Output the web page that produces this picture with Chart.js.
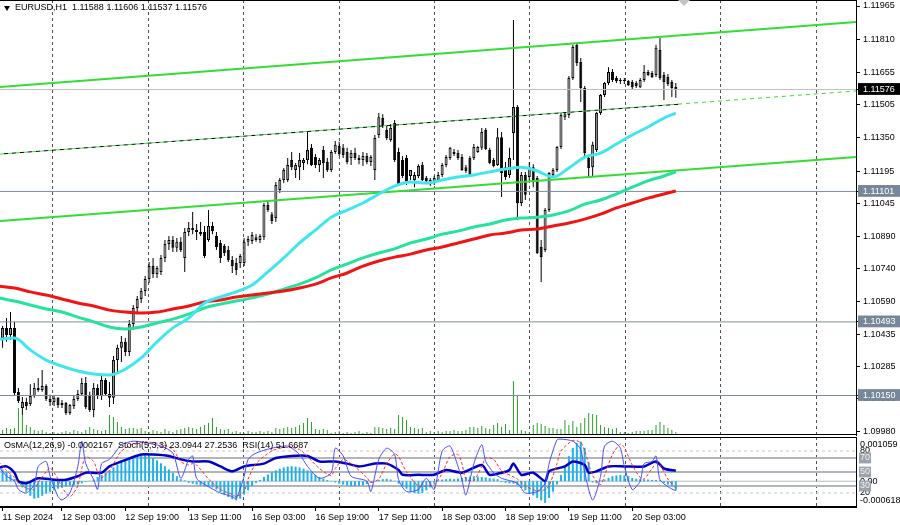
<!DOCTYPE html>
<html>
<head>
<meta charset="utf-8">
<script src="https://cdn.jsdelivr.net/npm/chart.js@4.4.1/dist/chart.umd.min.js"></script>
<style>
  html, body { margin: 0; padding: 0; background: #fff; }
  #wrap { position: relative; width: 900px; height: 525px; overflow: hidden; font-family: 'Liberation Sans', Arial, sans-serif; }
  canvas { position: absolute; left: 0; }
  #priceChart { top: 0; }
  #oscChart { top: 437px; }
  .txt { position: absolute; font-size: 9px; line-height: 11px; color: #000; white-space: pre; }
  #hdr { left: 15px; top: 2px; }
  #hdrArrow { position: absolute; left: 4px; top: 6px; width: 0; height: 0; border-left: 3.5px solid transparent; border-right: 3.5px solid transparent; border-top: 5px solid #000; }
  #oscHdr { left: 4px; top: 440px; }
  #shift { position: absolute; left: 678px; top: 0; width: 0; height: 0; border-left: 6px solid transparent; border-right: 6px solid transparent; border-top: 6px solid #c4c4c4; }
</style>
</head>
<body>
<div id="wrap">
  <canvas id="priceChart" width="900" height="436"></canvas>
  <canvas id="oscChart" width="900" height="88"></canvas>
  <div id="hdrArrow"></div>
  <div id="hdr" class="txt"></div>
  <div id="oscHdr" class="txt"></div>
  <div id="shift"></div>
</div>
<script>
// EURUSD H1, one entry per bar (bar 0 = 11 Sep 11:00, bar 171 = 20 Sep 14:00)
const opens = [
  1.10455,1.10418,1.10465,1.10432,1.10465,1.10167,1.10092,1.10120,1.10110,1.10148,
  1.10185,1.10176,1.10194,1.10134,1.10120,1.10139,1.10106,1.10115,1.10068,1.10101,
  1.10134,1.10157,1.10208,1.10153,1.10082,1.10185,1.10148,1.10222,1.10157,1.10139,
  1.10315,1.10372,1.10400,1.10353,1.10483,1.10558,1.10600,1.10637,1.10693,1.10753,
  1.10716,1.10726,1.10791,1.10856,1.10875,1.10838,1.10866,1.10791,1.10912,1.10931,
  1.10921,1.10912,1.10912,1.10875,1.10940,1.10893,1.10861,1.10847,1.10828,1.10781,
  1.10767,1.10767,1.10767,1.10866,1.10870,1.10888,1.10875,1.10888,1.11038,1.10995,
  1.10977,1.11108,1.11154,1.11154,1.11247,1.11201,1.11214,1.11233,1.11247,1.11304,
  1.11261,1.11224,1.11294,1.11238,1.11201,1.11285,1.11313,1.11304,1.11285,1.11257,
  1.11280,1.11257,1.11247,1.11266,1.11238,1.11201,1.11364,1.11443,1.11387,1.11341,
  1.11420,1.11285,1.11247,1.11257,1.11173,1.11154,1.11173,1.11224,1.11164,1.11154,
  1.11140,1.11154,1.11178,1.11224,1.11257,1.11285,1.11280,1.11261,1.11214,1.11257,
  1.11257,1.11285,1.11304,1.11387,1.11294,1.11247,1.11224,1.11354,1.11214,1.11178,
  1.11373,1.11494,1.11047,1.11178,1.11168,1.11214,1.11164,1.10842,1.10828,1.11014,
  1.11178,1.11201,1.11308,1.11447,1.11457,1.11630,1.11784,1.11704,1.11583,1.11257,
  1.11214,1.11294,1.11466,1.11550,1.11606,1.11658,1.11630,1.11615,1.11620,1.11615,
  1.11611,1.11606,1.11587,1.11620,1.11658,1.11653,1.11644,1.11760,1.11644,1.11634,
  1.11611,1.11588
];
const highs = [
  1.10493,1.10474,1.10511,1.10539,1.10493,1.10185,1.10143,1.10139,1.10203,1.10208,
  1.10232,1.10269,1.10203,1.10153,1.10148,1.10143,1.10129,1.10120,1.10110,1.10148,
  1.10176,1.10232,1.10236,1.10167,1.10208,1.10203,1.10241,1.10232,1.10213,1.10334,
  1.10386,1.10427,1.10418,1.10502,1.10572,1.10614,1.10651,1.10707,1.10772,1.10791,
  1.10753,1.10805,1.10875,1.10893,1.10893,1.10884,1.10888,1.10931,1.10959,1.11005,
  1.10949,1.10959,1.10940,1.11014,1.10959,1.10912,1.10875,1.10856,1.10847,1.10800,
  1.10791,1.10809,1.10884,1.10893,1.10912,1.10902,1.10902,1.11047,1.11052,1.11005,
  1.11145,1.11164,1.11210,1.11257,1.11285,1.11233,1.11280,1.11257,1.11378,1.11322,
  1.11275,1.11257,1.11313,1.11257,1.11294,1.11336,1.11332,1.11322,1.11304,1.11294,
  1.11304,1.11271,1.11285,1.11280,1.11271,1.11364,1.11466,1.11461,1.11406,1.11415,
  1.11434,1.11304,1.11266,1.11271,1.11201,1.11192,1.11228,1.11238,1.11173,1.11164,
  1.11173,1.11192,1.11233,1.11271,1.11308,1.11299,1.11294,1.11275,1.11224,1.11266,
  1.11322,1.11313,1.11397,1.11397,1.11304,1.11257,1.11397,1.11378,1.11238,1.11304,
  1.11900,1.11504,1.11192,1.11192,1.11238,1.11228,1.11173,1.10875,1.11024,1.11192,
  1.11210,1.11313,1.11466,1.11471,1.11639,1.11784,1.11793,1.11723,1.11592,1.11266,
  1.11332,1.11471,1.11555,1.11611,1.11680,1.11671,1.11639,1.11630,1.11630,1.11620,
  1.11620,1.11615,1.11630,1.11690,1.11667,1.11662,1.11784,1.11816,1.11658,1.11648,
  1.11620,1.11606
];
const lows = [
  1.10386,1.10372,1.10400,1.10409,1.10148,1.10115,1.10059,1.10082,1.10101,1.10139,
  1.10167,1.10167,1.10124,1.10101,1.10101,1.10092,1.10092,1.10059,1.10059,1.10087,
  1.10124,1.10148,1.10087,1.10073,1.10049,1.10134,1.10129,1.10148,1.10096,1.10110,
  1.10260,1.10306,1.10334,1.10334,1.10455,1.10529,1.10581,1.10614,1.10674,1.10698,
  1.10698,1.10712,1.10772,1.10828,1.10819,1.10819,1.10819,1.10726,1.10893,1.10902,
  1.10875,1.10893,1.10791,1.10866,1.10902,1.10828,1.10767,1.10800,1.10772,1.10721,
  1.10712,1.10744,1.10753,1.10847,1.10856,1.10866,1.10861,1.10875,1.11005,1.10949,
  1.10959,1.11094,1.11140,1.11145,1.11201,1.11164,1.11154,1.11201,1.11228,1.11219,
  1.11210,1.11192,1.11164,1.11192,1.11192,1.11275,1.11266,1.11257,1.11228,1.11224,
  1.11247,1.11228,1.11219,1.11228,1.11219,1.11154,1.11350,1.11397,1.11341,1.11332,
  1.11238,1.11126,1.11164,1.11131,1.11154,1.11121,1.11164,1.11149,1.11135,1.11126,
  1.11131,1.11145,1.11168,1.11214,1.11247,1.11266,1.11247,1.11196,1.11187,1.11173,
  1.11247,1.11280,1.11294,1.11294,1.11228,1.11214,1.11219,1.11075,1.11154,1.11164,
  1.11247,1.10968,1.11033,1.11061,1.11154,1.11121,1.10809,1.10679,1.10819,1.11005,
  1.11168,1.11192,1.11299,1.11434,1.11443,1.11620,1.11685,1.11518,1.11266,1.11168,
  1.11168,1.11285,1.11457,1.11541,1.11597,1.11611,1.11606,1.11601,1.11601,1.11592,
  1.11578,1.11583,1.11583,1.11611,1.11639,1.11630,1.11634,1.11620,1.11527,1.11592,
  1.11541,1.11537
];
const closes = [
  1.10418,1.10465,1.10432,1.10465,1.10162,1.10124,1.10120,1.10101,1.10148,1.10185,
  1.10176,1.10194,1.10134,1.10120,1.10139,1.10106,1.10115,1.10068,1.10106,1.10134,
  1.10157,1.10208,1.10096,1.10082,1.10185,1.10148,1.10222,1.10157,1.10139,1.10315,
  1.10372,1.10400,1.10353,1.10483,1.10558,1.10600,1.10637,1.10693,1.10753,1.10716,
  1.10744,1.10791,1.10856,1.10875,1.10838,1.10866,1.10828,1.10912,1.10931,1.10921,
  1.10912,1.10902,1.10800,1.10940,1.10916,1.10842,1.10791,1.10814,1.10781,1.10753,
  1.10735,1.10800,1.10866,1.10879,1.10898,1.10875,1.10893,1.11038,1.11014,1.10963,
  1.11131,1.11154,1.11201,1.11224,1.11214,1.11224,1.11247,1.11247,1.11294,1.11224,
  1.11224,1.11247,1.11233,1.11201,1.11285,1.11318,1.11275,1.11271,1.11238,1.11280,
  1.11257,1.11247,1.11266,1.11238,1.11261,1.11350,1.11447,1.11406,1.11350,1.11397,
  1.11247,1.11135,1.11173,1.11145,1.11201,1.11178,1.11219,1.11154,1.11149,1.11135,
  1.11164,1.11178,1.11224,1.11261,1.11304,1.11275,1.11257,1.11201,1.11196,1.11178,
  1.11308,1.11308,1.11378,1.11299,1.11233,1.11219,1.11354,1.11187,1.11168,1.11257,
  1.11494,1.11047,1.11178,1.11085,1.11214,1.11145,1.10814,1.10795,1.11014,1.11187,
  1.11201,1.11308,1.11457,1.11461,1.11630,1.11774,1.11699,1.11583,1.11280,1.11210,
  1.11318,1.11466,1.11550,1.11606,1.11658,1.11620,1.11615,1.11620,1.11615,1.11597,
  1.11587,1.11592,1.11620,1.11658,1.11644,1.11634,1.11770,1.11630,1.11611,1.11601,
  1.11583,1.11576
];
const volumes = [
  600,500,700,600,700,2700,2000,1000,800,500,
  400,500,300,200,300,200,300,400,300,500,
  400,300,500,800,600,500,400,500,2000,1800,
  1300,800,600,700,700,600,700,400,300,500,
  400,300,600,400,300,500,600,700,800,700,
  600,800,1000,1200,1700,800,600,500,600,300,
  400,300,200,400,300,300,400,300,400,300,
  700,600,700,800,700,800,1000,1200,1700,1300,
  600,500,600,500,200,300,400,200,300,200,
  300,400,200,300,200,800,800,700,600,700,
  600,2000,1800,1500,800,700,600,700,300,400,
  300,400,300,400,400,500,400,400,500,800,
  800,700,900,700,600,1000,1200,800,1100,500,
  5400,3900,500,400,300,1000,1200,1100,900,700,
  700,600,600,1500,1000,1400,800,1200,1700,2200,
  2100,2000,1000,800,700,600,700,300,300,200,
  300,400,400,400,500,500,1000,1300,1000,700,
  500,300
];

// moving averages, read every 4 bars
const maBars = [0,4,8,12,16,20,24,28,32,36,40,44,48,52,56,60,64,68,72,76,80,84,88,92,96,100,104,108,112,116,120,124,128,132,136,140,144,148,152,156,160,164,168,171];
const maFast = [1.10413,1.10418,1.10362,1.10315,1.10287,1.10264,1.10250,1.10246,1.10273,1.10325,1.10400,1.10465,1.10511,1.10581,1.10609,1.10633,1.10665,1.10726,1.10791,1.10861,1.10921,1.10981,1.11014,1.11047,1.11089,1.11126,1.11145,1.11140,1.11154,1.11168,1.11178,1.11192,1.11205,1.11214,1.11196,1.11168,1.11210,1.11261,1.11280,1.11322,1.11364,1.11401,1.11443,1.11466];
const maMid = [1.10605,1.10590,1.10572,1.10553,1.10539,1.10515,1.10493,1.10469,1.10460,1.10469,1.10488,1.10506,1.10529,1.10558,1.10576,1.10590,1.10605,1.10623,1.10646,1.10669,1.10698,1.10735,1.10763,1.10791,1.10814,1.10833,1.10861,1.10879,1.10902,1.10916,1.10935,1.10949,1.10968,1.10977,1.10981,1.10991,1.11010,1.11042,1.11061,1.11089,1.11121,1.11150,1.11173,1.11192];
const maSlow = [1.10660,1.10651,1.10633,1.10618,1.10600,1.10581,1.10567,1.10548,1.10539,1.10535,1.10539,1.10553,1.10567,1.10586,1.10595,1.10609,1.10618,1.10628,1.10637,1.10651,1.10669,1.10698,1.10721,1.10753,1.10777,1.10795,1.10809,1.10828,1.10842,1.10861,1.10879,1.10898,1.10907,1.10921,1.10926,1.10940,1.10954,1.10972,1.10995,1.11024,1.11047,1.11070,1.11089,1.11103];

// drawn objects: [bar, price]
const channelTop = [[0.35, 1.11588], [216.5, 1.11890]];
const channelBottom = [[0.35, 1.10963], [216.5, 1.11261]];
const channelMid = [[0.35, 1.11275], [171.6, 1.11507]];
const channelMidRay = [[0.35, 1.11275], [216.5, 1.11569]];
const markedPrices = [1.11576, 1.11101, 1.10493, 1.10150];

const priceTicks = [1.11965,1.11810,1.11655,1.11505,1.11350,1.11195,1.11045,1.10890,1.10740,1.10590,1.10435,1.10285,1.10135,1.09980];
const timeTickBars = [1, 16, 32, 48, 64, 80, 96, 112, 128, 144, 160];
const timeLabels = ['11 Sep 2024','12 Sep 03:00','12 Sep 19:00','13 Sep 11:00','16 Sep 03:00','16 Sep 19:00','17 Sep 11:00','18 Sep 03:00','18 Sep 19:00','19 Sep 11:00','20 Sep 03:00'];
const gridBars = [13.5, 37.7, 61.7, 86, 110, 134, 158.2, 182.2, 206.4];

// oscillators
const osma = [
  0.00025,0.00028,0.00022,0.00015,0.00005,-0.00005,-0.00015,-0.00025,-0.00035,-0.00042,
  -0.00040,-0.00035,-0.00030,-0.00026,-0.00022,-0.00018,-0.00015,-0.00013,-0.00012,-0.00010,
  -0.00008,-0.00005,-0.00002,0.00001,0.00004,0.00010,0.00015,0.00020,0.00026,0.00033,
  0.00040,0.00046,0.00051,0.00055,0.00059,0.00062,0.00064,0.00063,0.00060,0.00055,
  0.00050,0.00043,0.00036,0.00028,0.00020,0.00012,0.00005,0.00002,-0.00004,-0.00006,
  -0.00008,-0.00010,-0.00012,-0.00013,-0.00015,-0.00020,-0.00026,-0.00032,-0.00038,-0.00043,
  -0.00046,-0.00042,-0.00032,-0.00022,-0.00012,-0.00004,0.00003,0.00010,0.00016,0.00021,
  0.00026,0.00030,0.00033,0.00035,0.00036,0.00035,0.00033,0.00030,0.00026,0.00021,
  0.00015,0.00010,0.00006,0.00003,0.00001,-0.00003,-0.00006,-0.00008,-0.00010,-0.00012,
  -0.00012,-0.00011,-0.00010,-0.00007,-0.00004,-0.00001,0.00003,0.00005,0.00006,0.00004,
  0.00001,-0.00006,-0.00012,-0.00018,-0.00024,-0.00028,-0.00030,-0.00028,-0.00022,-0.00015,
  -0.00006,0.00002,0.00004,0.00005,0.00006,0.00005,0.00006,0.00008,0.00010,0.00011,
  0.00012,0.00011,0.00010,0.00009,0.00007,0.00006,0.00005,-0.00002,-0.00004,-0.00005,
  -0.00006,-0.00010,-0.00016,-0.00022,-0.00028,-0.00034,-0.00040,-0.00046,-0.00052,-0.00040,
  -0.00025,-0.00008,0.00015,0.00038,0.00060,0.00080,0.00092,0.00095,0.00080,0.00045,
  -0.00003,-0.00005,0.00002,0.00004,0.00008,0.00012,0.00014,0.00015,0.00014,0.00012,
  0.00008,0.00006,0.00005,0.00004,0.00004,0.00003,0.00003,0.00002,-0.00004,-0.00008,
  -0.00012,-0.0002167
];
const stochBars = [0,2,4,5,7,9,10,12,13,15,16,18,20,21,22,24,25,26,28,30,31,34,37,41,44,46,48,49,50,53,56,59,60,62,63,65,69,73,76,78,81,84,85,87,89,93,94,96,98,100,101,103,106,108,110,112,114,116,117,118,120,122,123,125,127,131,133,136,138,139,141,142,145,147,148,150,152,153,155,157,158,160,162,163,165,166,167,169,171];
const stochMain = [58,44,37,25,20,32,58,65,44,15,10,20,58,94,62,39,25,62,68,82,89,94,92,87,77,41,68,73,41,29,20,15,12,44,68,77,84,87,75,58,41,49,84,73,44,37,22,68,84,75,39,22,25,41,25,80,87,58,39,17,62,89,65,49,41,34,20,22,34,62,96,97,94,82,49,10,44,87,94,84,58,25,37,62,65,73,39,29,23.0944];
const stochSignal = [65,52,42,35,27,25,35,50,56,40,28,15,30,55,72,65,50,42,52,72,80,90,93,90,82,65,60,62,60,40,25,18,15,22,40,62,80,86,82,72,55,45,55,68,62,42,35,40,62,76,72,50,30,30,32,48,72,75,62,40,38,58,70,68,52,40,30,23,25,30,62,80,95,92,80,45,32,45,75,90,85,60,42,40,55,62,60,40,27.2536];
const rsiBars = [0,2,4,5,7,10,14,17,20,22,26,28,31,36,39,43,46,49,53,56,59,62,67,70,74,78,81,85,88,91,95,98,101,102,106,110,113,117,122,124,127,129,130,132,135,138,139,143,145,148,149,151,154,158,163,166,168,171];
const rsi = [56,58,49,37,34,41,39,39,44,49,49,58,65,75,75,73,68,65,65,58,51,58,62,70,73,73,65,65,62,58,62,62,53,46,46,46,53,49,60,46,49,53,62,46,49,37,51,58,65,60,49,51,58,58,58,65,55,51.6687];
const levelsSolid = [70, 50, 30];
const levelsDashed = [80, 20];
const oscTickValues = [80, 20, 89, 9, 37, 70, 50, 30];
const oscTickLabels = ['80', '20', '0.001059', '-0.000618', '0.00', '70', '50', '30'];

const N = opens.length;
const xMin = 0.35, xMax = 216.5;
const priceMin = 1.09966, priceMax = 1.11993;
const osmaMin = -0.000618, osmaMax = 0.001059;

document.getElementById('hdr').textContent =
  `EURUSD,H1  ${opens[N - 1].toFixed(5)} ${highs[N - 1].toFixed(5)} ${lows[N - 1].toFixed(5)} ${closes[N - 1].toFixed(5)}`;
document.getElementById('oscHdr').textContent =
  `OsMA(12,26,9) ${osma[N - 1].toFixed(7)}  Stoch(5,3,3) ${stochMain.at(-1).toFixed(4)} ${stochSignal.at(-1).toFixed(4)}  RSI(14) ${rsi.at(-1).toFixed(4)}`;

Chart.defaults.font.family = "'Liberation Sans', Arial, sans-serif";
Chart.defaults.font.size = 9;
Chart.defaults.color = '#000';

const pts = (xs, ys) => xs.map((x, k) => ({ x, y: ys[k] }));
const pairs = arr => arr.map(([x, y]) => ({ x, y }));
const flat = v => [{ x: xMin, y: v }, { x: xMax, y: v }];

const line = (data, color, width, extra) => Object.assign({
  type: 'line', data, borderColor: color, borderWidth: width,
  pointRadius: 0, fill: false, tension: 0
}, extra);

const dayGrid = {
  id: 'dayGrid',
  beforeDatasetsDraw(chart) {
    const { ctx, chartArea: a } = chart;
    const x = chart.scales.x;
    ctx.save();
    ctx.strokeStyle = '#505050';
    ctx.lineWidth = 1;
    ctx.setLineDash([3, 3]);
    gridBars.forEach(b => {
      const px = Math.round(x.getPixelForValue(b)) + 0.5;
      ctx.beginPath();
      ctx.moveTo(px, a.top);
      ctx.lineTo(px, a.bottom);
      ctx.stroke();
    });
    ctx.restore();
  }
};

const frame = {
  id: 'frame',
  afterDraw(chart) {
    const { ctx, chartArea: a } = chart;
    ctx.save();
    ctx.strokeStyle = '#000';
    ctx.lineWidth = 1;
    ctx.beginPath();
    ctx.moveTo(0, a.top + 0.5); ctx.lineTo(a.right, a.top + 0.5);
    ctx.moveTo(0, a.bottom - 0.5); ctx.lineTo(a.right, a.bottom - 0.5);
    ctx.stroke();
    ctx.restore();
  }
};

const baseOptions = {
  responsive: false,
  animation: false,
  devicePixelRatio: 1,
  events: [],
  layout: { padding: 0 },
  plugins: { legend: { display: false }, tooltip: { enabled: false } }
};

const rightAxis = (extra) => Object.assign({
  type: 'linear',
  position: 'right',
  afterFit: s => { s.width = 44; s.paddingTop = 0; s.paddingBottom = 0; },
  grid: { drawOnChartArea: false, tickLength: 4, color: '#000' },
  border: { color: '#000' }
}, extra);

// ---------- price window ----------
const bodyFill = opens.map((o, i) => closes[i] >= o ? '#9c9c9c' : '#000000');

new Chart(document.getElementById('priceChart'), {
  type: 'bar',
  data: {
    datasets: [
      line(pts(maBars, maFast), '#3fe6ee', 3, { order: 0, cubicInterpolationMode: 'monotone' }),
      line(pts(maBars, maSlow), '#f01414', 3, { order: 1, cubicInterpolationMode: 'monotone' }),
      line(pts(maBars, maMid), '#25e39c', 3, { order: 2, cubicInterpolationMode: 'monotone' }),
      line(pairs(channelTop), '#33dd33', 2, { order: 3 }),
      line(pairs(channelBottom), '#33dd33', 2, { order: 3 }),
      line(pairs(channelMid), '#000000', 1, { order: 3, borderDash: [4, 4], borderDashOffset: 4 }),
      line(pairs(channelMidRay), '#33dd33', 1, { order: 4, borderDash: [4, 4] }),
      line(flat(markedPrices[0]), '#c0c0c0', 1, { order: 5 }),
      line(flat(markedPrices[1]), '#7d8c9c', 1, { order: 5 }),
      line(flat(markedPrices[2]), '#7d8c9c', 1, { order: 5 }),
      line(flat(markedPrices[3]), '#7d8c9c', 1, { order: 5 }),
      {
        type: 'bar', order: 6,
        data: opens.map((o, i) => ({ x: i, y: [o, closes[i]] })),
        backgroundColor: bodyFill, borderColor: '#000', borderWidth: 1, borderSkipped: false,
        barThickness: 3, minBarLength: 1, grouped: false, inflateAmount: 0
      },
      {
        type: 'bar', order: 7,
        data: lows.map((l, i) => ({ x: i, y: [l, highs[i]] })),
        backgroundColor: '#000', borderWidth: 0, barThickness: 1, grouped: false, inflateAmount: 0
      },
      {
        type: 'bar', order: 8, yAxisID: 'yv',
        data: volumes.map((v, i) => ({ x: i, y: v })),
        backgroundColor: '#2a9d2a', borderWidth: 0, barThickness: 1, grouped: false, inflateAmount: 0
      }
    ]
  },
  options: Object.assign({}, baseOptions, {
    layout: { padding: { bottom: 1 } },
    scales: {
      x: { type: 'linear', min: xMin, max: xMax, offset: false, display: false },
      y: rightAxis({
        min: priceMin, max: priceMax, beginAtZero: false,
        afterBuildTicks: s => { s.ticks = priceTicks.concat(markedPrices).map(v => ({ value: v })); },
        ticks: {
          autoSkip: false,
          padding: 3,
          callback: v => v.toFixed(5),
          color: c => markedPrices.includes(c.tick.value) ? '#ffffff' : '#000000',
          showLabelBackdrop: c => markedPrices.includes(c.tick.value),
          backdropColor: c => c.tick.value === markedPrices[0] ? '#000000' : '#76879a',
          backdropPadding: { left: 5, right: 6, top: 1, bottom: 0 }
        }
      }),
      yv: { type: 'linear', display: false, min: 0, max: 43500 }
    }
  }),
  plugins: [dayGrid, frame]
});

// ---------- oscillator window ----------
const oscDatasets = [
  line(pts(stochBars, stochMain), '#4b4bff', 1, { yAxisID: 'ys', order: 0, tension: 0.25 }),
  line(pts(stochBars, stochSignal), '#ff2a2a', 1, { yAxisID: 'ys', order: 1, tension: 0.25, borderDash: [3, 2] }),
  line(pts(rsiBars, rsi), '#0000c8', 2.5, { yAxisID: 'ys', order: 2, tension: 0.25 }),
  {
    type: 'bar', order: 3, yAxisID: 'yo',
    data: osma.map((v, i) => ({ x: i, y: v })),
    backgroundColor: '#1cb2ec', borderWidth: 0, barThickness: 2, grouped: false, inflateAmount: 0
  },
  line(flat(0), '#b4b9c0', 1, { yAxisID: 'yo', order: 4 })
];
levelsSolid.forEach(v => oscDatasets.push(line(flat(v), '#b1b6be', 2, { yAxisID: 'ys', order: 5 })));
levelsDashed.forEach(v => oscDatasets.push(line(flat(v), '#c8c8c8', 1, { yAxisID: 'ys', order: 5, borderDash: [3, 3] })));

const oscBoxed = ['70', '50', '30'];

new Chart(document.getElementById('oscChart'), {
  type: 'bar',
  data: { datasets: oscDatasets },
  options: Object.assign({}, baseOptions, {
    scales: {
      x: {
        type: 'linear', min: xMin, max: xMax, offset: false,
        afterBuildTicks: s => { s.ticks = timeTickBars.map(v => ({ value: v })); },
        afterFit: s => { s.height = 18; s.paddingLeft = 0; s.paddingRight = 0; },
        grid: { drawOnChartArea: false, tickLength: 4, color: '#000', offset: false },
        border: { color: '#000' },
        ticks: {
          autoSkip: false, maxRotation: 0, minRotation: 0, align: 'start', padding: 1,
          callback: (v, i) => timeLabels[i]
        }
      },
      ys: rightAxis({
        min: 0, max: 100, beginAtZero: false,
        afterBuildTicks: s => { s.ticks = oscTickValues.map(v => ({ value: v })); },
        grid: { drawOnChartArea: false, drawTicks: false },
        ticks: {
          autoSkip: false,
          padding: 4,
          callback: (v, i) => oscTickLabels[i],
          color: c => oscBoxed.includes(oscTickLabels[c.index]) ? '#f2f2f2' : '#000000',
          showLabelBackdrop: c => oscBoxed.includes(oscTickLabels[c.index]),
          backdropColor: '#9aa3ad',
          backdropPadding: { left: 1, right: 1, top: 0, bottom: 0 }
        }
      }),
      yo: { type: 'linear', display: false, min: osmaMin, max: osmaMax, beginAtZero: false }
    }
  }),
  plugins: [dayGrid, frame]
});
</script>
</body>
</html>
